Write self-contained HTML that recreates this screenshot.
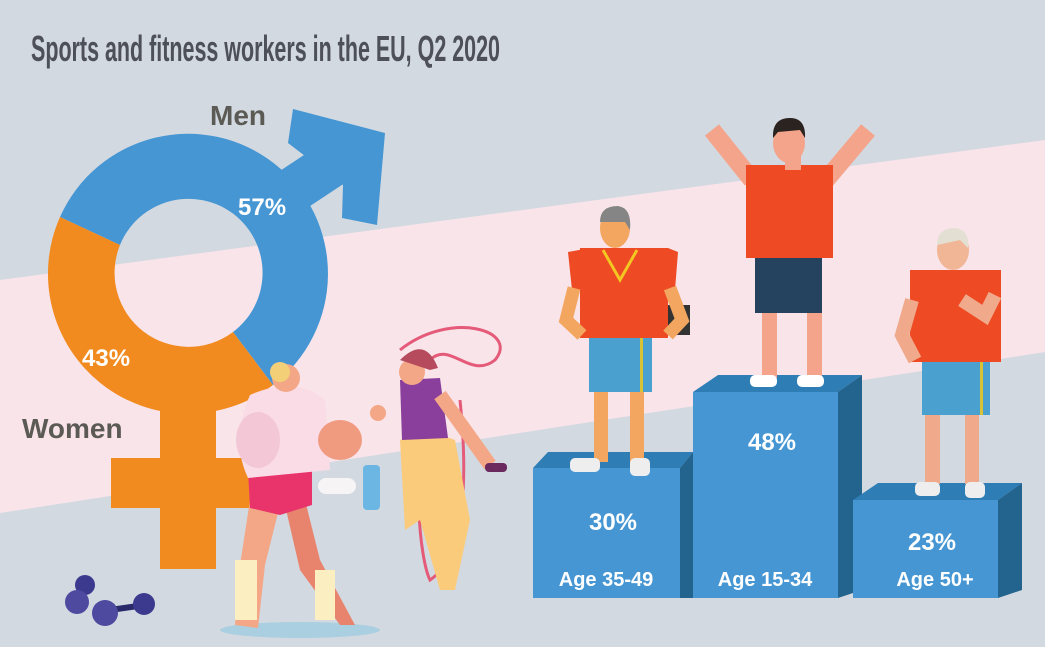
<!DOCTYPE html>
<html><head><meta charset="utf-8"><style>
html,body{margin:0;padding:0;background:#d3d9e1;}
svg{display:block;font-family:"Liberation Sans",sans-serif;font-weight:bold;}
</style></head><body>
<svg width="1045" height="647" viewBox="0 0 1045 647" xmlns="http://www.w3.org/2000/svg">
<rect width="1045" height="647" fill="#d3d9e1"/>
<polygon points="0,280 1045,140 1045,352 0,513" fill="#f9e4ea"/>
<text x="31" y="61" font-size="36" fill="#4d5058" textLength="469" lengthAdjust="spacingAndGlyphs">Sports and fitness workers in the EU, Q2 2020</text>

<!-- female cross -->
<rect x="160" y="400" width="56" height="169" fill="#f28b1f"/>
<rect x="111" y="458" width="150" height="50" fill="#f28b1f"/>
<!-- male arrow -->
<line x1="270" y1="205" x2="335" y2="162" stroke="#4596d3" stroke-width="46"/>
<polygon points="288,143 293,109 385,133 377,225 342,218 343,185" fill="#4596d3"/>
<!-- donut -->
<g transform="translate(188,274)">
<path d="M-128,-57 A140,140 0 1 1 85,111 L45,58 A74,74 0 1 0 -68,-29 Z" fill="#4596d3"/>
<path d="M-128,-57 A140,140 0 0 0 85,111 L45,58 A74,74 0 0 1 -68,-29 Z" fill="#f28b1f"/>
</g>
<text x="210" y="125" font-size="28" fill="#5b5a55">Men</text>
<text x="22" y="438" font-size="28" fill="#5b5a55">Women</text>
<text x="238" y="215" font-size="24" fill="#fff">57%</text>
<text x="82" y="366" font-size="24" fill="#fff">43%</text>

<!-- dumbbells -->
<circle cx="85" cy="585" r="10" fill="#3b3a8f"/>
<circle cx="77" cy="602" r="12" fill="#4d4aa0"/>
<line x1="110" y1="610" x2="145" y2="605" stroke="#2a2a6a" stroke-width="6"/>
<circle cx="105" cy="613" r="13" fill="#4d4aa0"/>
<circle cx="144" cy="604" r="11" fill="#3b3a8f"/>

<!-- coach woman -->
<ellipse cx="300" cy="630" rx="80" ry="8" fill="#a9cfe0"/>
<polygon points="250,500 240,565 235,625 258,628 265,565 280,505" fill="#f4a786"/>
<polygon points="285,505 300,570 340,625 355,625 320,560 305,500" fill="#e8846d"/>
<rect x="235" y="560" width="22" height="60" fill="#fbefc2"/>
<rect x="315" y="570" width="20" height="50" fill="#fbefc2"/>
<polygon points="248,470 312,465 312,505 280,515 250,508" fill="#e8336b"/>
<path d="M250,395 Q295,375 325,400 L330,470 L248,478 Q230,440 250,395 Z" fill="#fadce6"/>
<ellipse cx="258" cy="440" rx="22" ry="28" fill="#f3c7d6"/>
<ellipse cx="340" cy="440" rx="22" ry="20" fill="#f09a80"/>
<circle cx="286" cy="378" r="14" fill="#f4a786"/>
<circle cx="280" cy="372" r="10" fill="#f3cf78"/>
<!-- towel, bottle -->
<rect x="318" y="478" width="38" height="16" rx="8" fill="#f6f4f4"/>
<rect x="363" y="465" width="17" height="45" rx="4" fill="#6bb6e3"/>
<!-- jump rope woman -->
<path d="M430,390 C410,470 420,560 430,580 C460,560 470,500 460,400" fill="none" stroke="#e45a78" stroke-width="3"/>
<path d="M400,350 C450,310 520,330 495,360 C470,380 450,340 430,360" fill="none" stroke="#e45a78" stroke-width="3"/>
<path d="M400,440 Q430,430 455,440 L470,520 L455,590 L440,590 L420,520 L405,530 Z" fill="#fbcb7c"/>
<polygon points="400,380 440,378 448,438 402,440" fill="#8b3f9c"/>
<circle cx="412" cy="372" r="13" fill="#f4a786"/>
<path d="M400,360 Q425,335 438,368 L430,370 Z" fill="#b54b5c"/>
<line x1="440" y1="395" x2="490" y2="465" stroke="#f4a786" stroke-width="14"/>
<rect x="485" y="463" width="22" height="9" rx="4" fill="#6a2a5e"/>
<circle cx="378" cy="413" r="8" fill="#f4a786"/>

<!-- podiums -->
<polygon points="533,468 548,452 693,452 680,468" fill="#2e7db5"/>
<polygon points="680,468 693,452 693,598 680,598" fill="#23648f"/>
<rect x="533" y="468" width="147" height="130" fill="#4596d3"/>
<polygon points="693,392 718,375 862,375 838,392" fill="#2e7db5"/>
<polygon points="838,392 862,375 862,590 838,598" fill="#23648f"/>
<rect x="693" y="392" width="145" height="206" fill="#4596d3"/>
<polygon points="853,500 878,483 1022,483 998,500" fill="#2e7db5"/>
<polygon points="998,500 1022,483 1022,590 998,598" fill="#23648f"/>
<rect x="853" y="500" width="145" height="98" fill="#4596d3"/>
<g fill="#fff" text-anchor="middle">
<text x="613" y="530" font-size="24">30%</text>
<text x="772" y="450" font-size="24">48%</text>
<text x="932" y="550" font-size="24">23%</text>
<text x="606" y="586" font-size="20">Age 35-49</text>
<text x="765" y="586" font-size="20">Age 15-34</text>
<text x="935" y="586" font-size="20">Age 50+</text>
</g>

<!-- middle man -->
<line x1="752" y1="180" x2="712" y2="130" stroke="#f4a48a" stroke-width="18"/>
<line x1="826" y1="180" x2="868" y2="130" stroke="#f4a48a" stroke-width="18"/>
<rect x="762" y="310" width="15" height="68" fill="#f4a48a"/>
<rect x="807" y="310" width="15" height="68" fill="#f4a48a"/>
<rect x="750" y="375" width="27" height="12" rx="5" fill="#fff"/>
<rect x="797" y="375" width="27" height="12" rx="5" fill="#fff"/>
<rect x="755" y="257" width="67" height="56" fill="#25435f"/>
<rect x="746" y="165" width="87" height="93" fill="#ee4a24"/>
<rect x="785" y="150" width="16" height="20" fill="#f4a48a"/>
<ellipse cx="789" cy="143" rx="16" ry="20" fill="#f4a48a"/>
<path d="M773,138 Q772,118 790,118 Q806,118 805,138 L800,130 L778,132 Z" fill="#2b2320"/>

<!-- left man -->
<rect x="655" y="305" width="35" height="30" fill="#333"/>
<rect x="594" y="390" width="14" height="72" fill="#f3a65f"/>
<rect x="630" y="390" width="14" height="72" fill="#f3a65f"/>
<rect x="570" y="458" width="30" height="14" rx="5" fill="#eee"/>
<rect x="630" y="458" width="20" height="18" rx="5" fill="#eee"/>
<rect x="589" y="338" width="63" height="54" fill="#4aa0cf"/>
<rect x="640" y="338" width="3" height="54" fill="#d7c335"/>
<rect x="580" y="248" width="88" height="90" fill="#ee4a24"/>
<polygon points="568,252 590,248 590,290 572,290" fill="#ee4a24"/>
<polygon points="668,248 678,252 675,290 665,290" fill="#ee4a24"/>
<path d="M574,288 L566,320 L582,335" fill="none" stroke="#f3a65f" stroke-width="13"/>
<path d="M670,288 L682,320 L668,335" fill="none" stroke="#f3a65f" stroke-width="13"/>
<path d="M603,250 L620,280 L637,250" fill="none" stroke="#f3c622" stroke-width="3"/>
<ellipse cx="615" cy="228" rx="15" ry="20" fill="#f3a65f"/>
<path d="M600,222 Q600,206 618,206 Q632,208 630,230 L625,222 Z" fill="#858585"/>

<!-- right man -->
<rect x="925" y="412" width="15" height="72" fill="#f0a98b"/>
<rect x="965" y="412" width="14" height="72" fill="#f0a98b"/>
<rect x="915" y="482" width="25" height="14" rx="5" fill="#eee"/>
<rect x="965" y="482" width="20" height="16" rx="5" fill="#eee"/>
<rect x="922" y="362" width="68" height="53" fill="#4aa0cf"/>
<rect x="980" y="362" width="3" height="53" fill="#d7c335"/>
<rect x="910" y="270" width="91" height="92" fill="#ee4a24"/>
<path d="M912,300 L902,335 L915,360" fill="none" stroke="#f0a98b" stroke-width="14"/>
<path d="M995,295 L985,315 L962,300" fill="none" stroke="#f0a98b" stroke-width="14"/>
<ellipse cx="953" cy="250" rx="16" ry="20" fill="#f0b696"/>
<path d="M937,245 Q937,228 955,228 Q970,230 968,248 L960,240 Z" fill="#e3e0d3"/>
</svg>
</body></html>
